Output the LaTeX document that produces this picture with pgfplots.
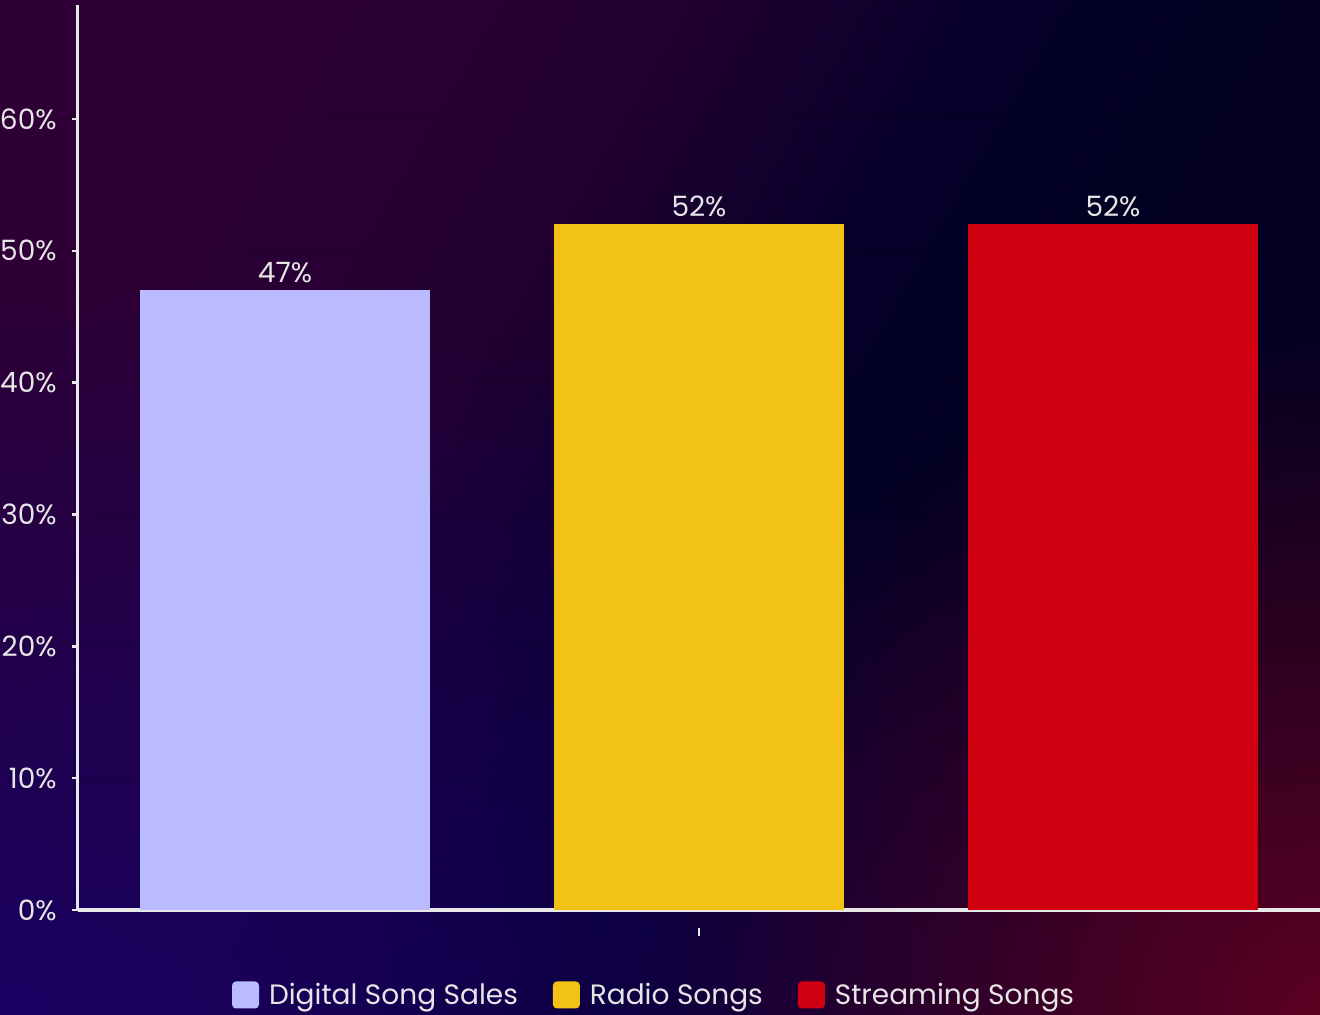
\documentclass[border=0pt]{standalone}
\usepackage{fontspec}
\setmainfont{Poppins}
\usepackage{pgfplots}
\pgfplotsset{compat=1.18}
\usetikzlibrary{fadings}
\definecolor{cTL}{HTML}{2E0035}
\definecolor{cPu}{HTML}{230031}
\definecolor{cNav}{HTML}{04002A}
\definecolor{cTR}{HTML}{020022}
\definecolor{cEnd}{HTML}{060020}
\definecolor{cBRo}{HTML}{5C0022}
\definecolor{cBL}{HTML}{1A0062}
\definecolor{barA}{HTML}{BABBFF}
\definecolor{barB}{HTML}{F2C315}
\definecolor{barC}{HTML}{D10011}
\definecolor{txt}{HTML}{E6E6E6}
\definecolor{axl}{HTML}{E8E8E8}
\pgfdeclarehorizontalshading{bgdiag}{100bp}{color(0bp)=(cTL); color(25bp)=(cTL); color(40bp)=(cPu); color(52.5bp)=(cNav); color(60bp)=(cTR); color(75bp)=(cEnd); color(100bp)=(cEnd)}
\tikzfading[name=radfade, inner color=transparent!0, outer color=transparent!100]
\begin{document}
\begin{tikzpicture}
\useasboundingbox (-39bp,-52.5bp) rectangle (621bp,455bp);
\shade[shading=bgdiag, shading angle=-30] (-39bp,-52.5bp) rectangle (621bp,455bp);
\begin{scope}
\clip (-39bp,-52.5bp) rectangle (621bp,455bp);
\fill[cBL, path fading=radfade] (-39bp,-52.5bp) ellipse (640bp and 370bp);
\fill[cBRo, path fading=radfade] (621bp,-52.5bp) ellipse (340bp and 340bp);
\end{scope}
\begin{axis}[
  at={(0,0)}, anchor=south west, scale only axis,
  width=621bp, height=452.5bp,
  xmin=-0.5, xmax=2.5, ymin=0, ymax=68.65,
  axis x line*=bottom, axis y line*=left,
  x axis line style={draw=axl, line width=1.75bp, -},
  y axis line style={draw=axl, line width=1.5bp, -},
  ytick={0,10,...,60},
  yticklabel={\pgfmathprintnumber{\tick}\%},
  /pgf/number format/assume math mode=true,
  yticklabel style={font=\fontsize{14bp}{16bp}\selectfont, text=txt, inner sep=0pt, xshift=-7.5bp},
  ytick style={draw=axl, line width=1.2bp},
  major tick length=3bp, tick align=outside,
  xtick={1}, xticklabels={\rule{1.3bp}{4bp}},
  xtick style={draw=none},
  xticklabel style={text=axl, inner sep=0pt, yshift=-6bp},
  ymajorgrids, grid style={black, opacity=0.18, line width=0.5bp},
  nodes near coords={\pgfmathprintnumber{\pgfplotspointmeta}\%},
  every node near coord/.append style={font=\fontsize{14bp}{16bp}\selectfont, text=txt, inner sep=0pt, yshift=3.8bp},
  legend style={at={(0.4646,-0.0939)}, anchor=center, draw=none, fill=none, text=txt,
    font=\fontsize{14bp}{17bp}\selectfont, inner sep=0pt,
    /tikz/every odd column/.append style={column sep=3bp},
    /tikz/every even column/.append style={column sep=15.5bp}},
  legend columns=3, legend cell align=left,
]
\addplot[ybar, bar width=0.7, bar shift=0pt, fill=barA, draw=none,
  legend image code/.code={\fill[barA, rounded corners=2bp] (0bp,-6.75bp) rectangle (13.5bp,6.75bp);}]
  coordinates {(0,47)};
\addlegendentry{Digital Song Sales}
\addplot[ybar, bar width=0.7, bar shift=0pt, fill=barB, draw=none,
  legend image code/.code={\fill[barB, rounded corners=2bp] (0bp,-6.75bp) rectangle (13.5bp,6.75bp);}]
  coordinates {(1,52)};
\addlegendentry{Radio Songs}
\addplot[ybar, bar width=0.7, bar shift=0pt, fill=barC, draw=none,
  legend image code/.code={\fill[barC, rounded corners=2bp] (0bp,-6.75bp) rectangle (13.5bp,6.75bp);}]
  coordinates {(2,52)};
\addlegendentry{Streaming Songs}
\end{axis}
\end{tikzpicture}
\end{document}
